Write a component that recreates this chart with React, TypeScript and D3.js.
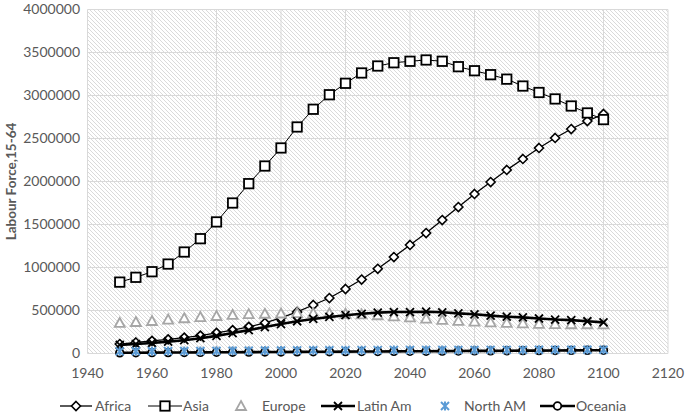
import React from "react";
import * as d3 from "d3";

const years = [1950, 1955, 1960, 1965, 1970, 1975, 1980, 1985, 1990, 1995, 2000, 2005, 2010, 2015, 2020, 2025, 2030, 2035, 2040, 2045, 2050, 2055, 2060, 2065, 2070, 2075, 2080, 2085, 2090, 2095, 2100];

const africa = [110000, 128000, 147000, 165000, 185000, 208000, 240000, 272000, 310000, 355000, 413000, 483000, 564000, 645000, 750000, 860000, 985000, 1122000, 1262000, 1401000, 1552000, 1703000, 1855000, 1994000, 2134000, 2262000, 2390000, 2506000, 2610000, 2703000, 2785000];
const asia = [830000, 886000, 951000, 1040000, 1180000, 1335000, 1530000, 1750000, 1975000, 2180000, 2390000, 2634000, 2840000, 3009000, 3142000, 3262000, 3343000, 3381000, 3398000, 3413000, 3398000, 3335000, 3288000, 3242000, 3190000, 3110000, 3035000, 2960000, 2878000, 2797000, 2720000];
const europe = [355000, 366000, 378000, 395000, 410000, 424000, 436000, 448000, 458000, 462000, 465000, 470000, 470000, 468000, 462000, 455000, 445000, 432000, 420000, 405000, 392000, 380000, 370000, 362000, 356000, 350000, 345000, 342000, 340000, 340000, 338000];
const latinAm = [100000, 110000, 122000, 138000, 155000, 178000, 205000, 238000, 272000, 308000, 342000, 375000, 402000, 425000, 445000, 462000, 475000, 482000, 482000, 486000, 479000, 467000, 456000, 440000, 428000, 420000, 407000, 395000, 388000, 375000, 362000];
const northAm = [25000, 26000, 27000, 28000, 29000, 30000, 31000, 32000, 33000, 34000, 35000, 36000, 37000, 38000, 38000, 39000, 39000, 40000, 40000, 40000, 41000, 41000, 41000, 42000, 42000, 42000, 43000, 43000, 43000, 44000, 44000];
const oceania = [8000, 9000, 10000, 11000, 12000, 13000, 14000, 15000, 16000, 17000, 18000, 19000, 20000, 21000, 22000, 23000, 24000, 25000, 26000, 27000, 28000, 29000, 30000, 31000, 32000, 33000, 34000, 35000, 36000, 37000, 38000];

const xTicks = [1940, 1960, 1980, 2000, 2020, 2040, 2060, 2080, 2100, 2120];
const yTicks = [0, 500000, 1000000, 1500000, 2000000, 2500000, 3000000, 3500000, 4000000];

const W = 685, H = 416;
const left = 87.5, right = 668, top = 9.5, bottom = 353.5;
const FONT = "Lato, 'Open Sans', sans-serif";
const TXT = "#595959";

function Marker({ type, x, y }: { type: string; x: number; y: number }) {
  if (type === "diamond") {
    const s = 4.5;
    return <path d={`M${x},${y - s}L${x + s},${y}L${x},${y + s}L${x - s},${y}Z`} fill="#fff" stroke="#000" strokeWidth={1.6} />;
  }
  if (type === "square") {
    return <rect x={x - 4.7} y={y - 4.7} width={9.4} height={9.4} fill="#fff" stroke="#000" strokeWidth={1.8} />;
  }
  if (type === "triangle") {
    const s = 5;
    return <path d={`M${x},${y - s}L${x + s},${y + s * 0.8}L${x - s},${y + s * 0.8}Z`} fill="#fff" stroke="#a6a6a6" strokeWidth={1.8} />;
  }
  if (type === "x") {
    const s = 4;
    return <path d={`M${x - s},${y - s}L${x + s},${y + s}M${x - s},${y + s}L${x + s},${y - s}`} stroke="#000" strokeWidth={1.8} fill="none" />;
  }
  if (type === "star") {
    const s = 4;
    return <path d={`M${x - s},${y - s}L${x + s},${y + s}M${x - s},${y + s}L${x + s},${y - s}M${x},${y - s - 0.5}L${x},${y + s + 0.5}`} stroke="#5b9bd5" strokeWidth={2} fill="none" />;
  }
  if (type === "circle") {
    return <circle cx={x} cy={y} r={3.8} fill="#fff" stroke="#000" strokeWidth={1.8} />;
  }
  return null;
}

const series = [
  { name: "Africa", values: africa, marker: "diamond", line: 1.3, color: "#000" },
  { name: "Asia", values: asia, marker: "square", line: 1.0, color: "#000" },
  { name: "Europe", values: europe, marker: "triangle", line: 0, color: "#a6a6a6" },
  { name: "Latin Am", values: latinAm, marker: "x", line: 2.6, color: "#000" },
  { name: "Oceania", values: oceania, marker: "circle", line: 2.6, color: "#000" },
  { name: "North AM", values: northAm, marker: "star", line: 0, color: "#5b9bd5" },
];

const legend = [
  { name: "Africa", marker: "diamond", line: 1.3, x0: 60, x1: 92, tx: 95 },
  { name: "Asia", marker: "square", line: 1.0, x0: 148, x1: 182, tx: 183 },
  { name: "Europe", marker: "triangle", line: 0, x0: 241, x1: 241, tx: 262 },
  { name: "Latin Am", marker: "x", line: 2.6, x0: 321, x1: 355, tx: 357 },
  { name: "North AM", marker: "star", line: 0, x0: 445, x1: 445, tx: 464 },
  { name: "Oceania", marker: "circle", line: 2.6, x0: 540, x1: 575, tx: 576 },
];

export default function App() {
  const x = d3.scaleLinear().domain([1940, 2120]).range([left, right]);
  const y = d3.scaleLinear().domain([0, 4000000]).range([bottom, top]);
  const line = d3.line<number>().x((_, i) => x(years[i])).y((d) => y(d));
  const ly = 406;
  return (
    <svg width={W} height={H} style={{ position: "absolute", left: 0, top: 0, background: "#fff" }} fontFamily={FONT}>
      <defs>
        <pattern id="hatch" patternUnits="userSpaceOnUse" width={4} height={4}>
          <path d="M-1,-1L5,5M-1,3L1,5M3,-1L5,1" stroke="#d6d6d6" strokeWidth={0.9} />
        </pattern>
      </defs>
      <rect x={left} y={top} width={right - left} height={bottom - top} fill="url(#hatch)" />
      {yTicks.map((t) => (
        <line key={"gy" + t} x1={left} x2={right} y1={y(t)} y2={y(t)} stroke="#d9d9d9" strokeWidth={1} />
      ))}
      {xTicks.map((t) => (
        <line key={"gx" + t} x1={x(t)} x2={x(t)} y1={top} y2={bottom} stroke="#d9d9d9" strokeWidth={1} />
      ))}
      {yTicks.map((t) => (
        <text key={"ty" + t} x={80} y={y(t)} dy="0.35em" textAnchor="end" fontSize={14} fill={TXT}>{t}</text>
      ))}
      {xTicks.map((t) => (
        <text key={"tx" + t} x={x(t)} y={373.5} dy="0.35em" textAnchor="middle" fontSize={14} fill={TXT}>{t}</text>
      ))}
      <text transform={`translate(11,${(top + bottom) / 2}) rotate(-90)`} textAnchor="middle" dy="0.35em" fontSize={13.5} fontWeight="bold" fill={TXT}>Labour Force,15-64</text>
      {series.map((s) => (
        <g key={s.name}>
          {s.line > 0 && <path d={line(s.values) || ""} fill="none" stroke={s.color} strokeWidth={s.line} />}
          {s.values.map((v, i) => (
            <Marker key={i} type={s.marker} x={x(years[i])} y={y(v)} />
          ))}
        </g>
      ))}
      {legend.map((l) => (
        <g key={l.name}>
          {l.line > 0 && <line x1={l.x0} x2={l.x1} y1={ly} y2={ly} stroke="#000" strokeWidth={l.line} />}
          <Marker type={l.marker} x={(l.x0 + l.x1) / 2} y={ly} />
          <text x={l.tx} y={ly} dy="0.35em" fontSize={14} fill={TXT}>{l.name}</text>
        </g>
      ))}
    </svg>
  );
}
